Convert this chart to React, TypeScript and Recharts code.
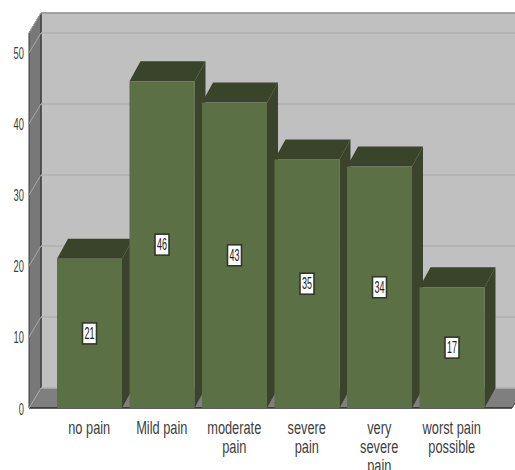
import { BarChart, Bar, XAxis, YAxis, CartesianGrid, LabelList, usePlotArea } from "recharts";

const categories = ["no pain", "Mild pain", "moderate pain", "severe pain", "very severe pain", "worst pain possible"];
const counts = [21, 46, 43, 35, 34, 17];
const yTicks = [0, 10, 20, 30, 40, 50];

const chartData = categories.map((name, i) => ({ name, count: counts[i] }));

// how far the back wall sits behind the front plane
const DEPTH_X = 12;
const DEPTH_Y = 20;
const BAR_DEPTH_X = 11;

const FONT = '"Liberation Sans", Arial, sans-serif';
const BAR_FRONT = "#5b7045";
const BAR_DARK = "#3a442a";

function wrapLabel(label: string) {
  const lines: string[] = [];
  for (const word of label.split(" ")) {
    const last = lines[lines.length - 1];
    if (last && (last + " " + word).length <= 10) lines[lines.length - 1] = last + " " + word;
    else lines.push(word);
  }
  return lines;
}

function Walls() {
  const plot = usePlotArea();
  if (!plot) return null;
  const left = plot.x;
  const right = plot.x + plot.width;
  const top = plot.y;
  const bottom = plot.y + plot.height;
  const pts = (p: number[][]) => p.map((q) => q.join(",")).join(" ");
  return (
    <g>
      <rect x={left + DEPTH_X} y={top - DEPTH_Y} width={plot.width} height={plot.height} fill="#c0c0c0" />
      <polygon
        points={pts([[left, top], [left + DEPTH_X, top - DEPTH_Y], [left + DEPTH_X, bottom - DEPTH_Y], [left, bottom]])}
        fill="#787878"
      />
      <polygon
        points={pts([[left, bottom], [left + DEPTH_X, bottom - DEPTH_Y], [right + DEPTH_X, bottom - DEPTH_Y], [right, bottom]])}
        fill="#7f7f7f"
      />
      <line x1={left + DEPTH_X} y1={top - DEPTH_Y} x2={right + DEPTH_X} y2={top - DEPTH_Y} stroke="#4a4a4a" strokeWidth={1.5} />
      <line x1={left + DEPTH_X} y1={top - DEPTH_Y} x2={left + DEPTH_X} y2={bottom - DEPTH_Y} stroke="#3a3a3a" strokeWidth={1.5} />
      <line x1={left} y1={top} x2={left + DEPTH_X} y2={top - DEPTH_Y} stroke="#3a3a3a" />
      <line x1={left} y1={top} x2={left} y2={bottom} stroke="#3a3a3a" />
      <line x1={left} y1={bottom} x2={right} y2={bottom} stroke="#2a2a2a" strokeWidth={1.5} />
      <line x1={right} y1={bottom} x2={right + DEPTH_X} y2={bottom - DEPTH_Y} stroke="#3a3a3a" />
    </g>
  );
}

// one line per tick: diagonal over the side wall, then across the back wall
function GridLine(props: any) {
  const { x1, x2, y1 } = props;
  const backY = y1 - DEPTH_Y;
  return (
    <g>
      <line x1={x1} y1={y1} x2={x1 + DEPTH_X} y2={backY} stroke="#a9a9a9" />
      <line x1={x1 + DEPTH_X} y1={backY} x2={x2 + DEPTH_X} y2={backY} stroke="#b0b0b0" strokeWidth={1.5} />
    </g>
  );
}

function Bar3D(props: any) {
  const { x, y, width, height } = props;
  const dx = BAR_DEPTH_X;
  const dy = DEPTH_Y;
  const r = x + width;
  const b = y + height;
  return (
    <g>
      <polygon
        points={`${x},${y} ${x + dx},${y - dy} ${r + dx},${y - dy} ${r},${y}`}
        fill={BAR_DARK}
      />
      <polygon
        points={`${r},${y} ${r + dx},${y - dy} ${r + dx},${b - dy} ${r},${b}`}
        fill={BAR_DARK}
      />
      <rect x={x} y={y} width={width} height={height} fill={BAR_FRONT} />
    </g>
  );
}

function ValueBox(props: any) {
  const { x, y, width, height, value } = props;
  const cx = x + width / 2;
  const cy = y + height / 2;
  return (
    <g>
      <rect x={cx - 7} y={cy - 10.5} width={14} height={21} fill="#ffffff" stroke="#2f3a26" strokeWidth={1.6} />
      <text
        transform={`translate(${cx},${cy + 5.5}) scale(0.72,1.25)`}
        textAnchor="middle"
        fontFamily={FONT}
        fontSize={12.5}
        fill="#222222"
      >
        {value}
      </text>
    </g>
  );
}

function CategoryTick(props: any) {
  const { x, payload } = props;
  return (
    <g>
      {wrapLabel(payload.value).map((line, i) => (
        <text
          key={i}
          transform={`translate(${x},${433.5 + i * 19}) scale(0.8,1.14)`}
          textAnchor="middle"
          fontFamily={FONT}
          fontSize={16}
          fill="#404040"
        >
          {line}
        </text>
      ))}
    </g>
  );
}

function ValueTick(props: any) {
  const { y, payload } = props;
  return (
    <text
      transform={`translate(24,${y + 6.5}) scale(0.72,1.22)`}
      textAnchor="end"
      fontFamily={FONT}
      fontSize={13}
      fill="#404040"
    >
      {payload.value}
    </text>
  );
}

export default function App() {
  return (
    <div style={{ position: "absolute", left: 0, top: 0, width: 515, height: 470, overflow: "hidden", background: "#fff" }}>
      <BarChart
        width={515}
        height={470}
        data={chartData}
        margin={{ top: 33, right: 3, bottom: 0, left: 0 }}
        barCategoryGap={7.6}
      >
        <Walls />
        <CartesianGrid zIndex={1} vertical={false} horizontal={GridLine as any} />
        <XAxis
          dataKey="name"
          height={62}
          axisLine={false}
          tickLine={false}
          interval={0}
          padding={{ left: 24, right: 24 }}
          tick={CategoryTick as any}
        />
        <YAxis
          width={29}
          type="number"
          domain={[0, 52.8]}
          ticks={yTicks}
          axisLine={false}
          tickLine={false}
          interval={0}
          tick={ValueTick as any}
        />
        <Bar dataKey="count" barSize={65} shape={Bar3D as any} isAnimationActive={false}>
          <LabelList dataKey="count" content={ValueBox as any} />
        </Bar>
      </BarChart>
    </div>
  );
}
